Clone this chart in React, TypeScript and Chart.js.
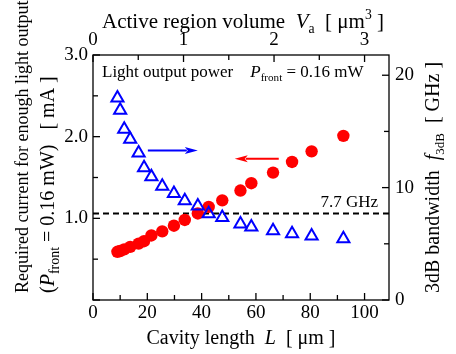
import React, { useEffect, useRef } from "react";
import { Chart, registerables } from "chart.js";

Chart.register(...registerables);

// ---- data ----
const cavityLength = [9, 10, 11.5, 13.7, 16.8, 18.8, 21.5, 25.5, 29.8, 33.8, 38.6, 42.6, 47.6, 54.3, 58.3, 66.3, 73.3, 80.5, 92.2];
const requiredCurrent = [0.59, 0.6, 0.62, 0.65, 0.69, 0.72, 0.79, 0.84, 0.91, 0.98, 1.06, 1.14, 1.22, 1.34, 1.43, 1.56, 1.69, 1.82, 2.01];
const bandwidth3dB = [17.98, 16.89, 15.2, 14.31, 13.09, 11.76, 10.96, 10.13, 9.48, 8.83, 8.36, 7.67, 7.33, 6.76, 6.49, 6.16, 5.89, 5.69, 5.45];
const thresholdGHz = 7.7;

const lengthMax = 109;
const volumePerLength = 0.03; // um^3 per um
const currentMax = 3;
const bandwidthMax = 21.8;

const lengthTicks = [0, 20, 40, 60, 80, 100];
const volumeTicks = [0, 1, 2, 3];
const currentTicks = [1, 2, 3];
const bandwidthTicks = [0, 10, 20];

const lengthMinorStep = 10;
const volumeMinorStep = 0.5;
const currentMinorStep = 0.5;
const bandwidthMinorStep = 5;

// annotation arrows in data units
const bandwidthArrow = { fromL: 20.2, toL: 38.6, atGHz: 13.3 };
const currentArrow = { fromL: 68.4, toL: 52.2, atmA: 1.73 };

const FONT = '"Liberation Serif", "Times New Roman", serif';

type Seg = { t: string; italic?: boolean; scale?: number; dy?: number };

function drawRich(ctx: CanvasRenderingContext2D, segs: Seg[], x: number, y: number, size: number, align: "left" | "center" | "right") {
  const fontOf = (s: Seg) => `${s.italic ? "italic " : ""}${(size * (s.scale ?? 1)).toFixed(1)}px ${FONT}`;
  let total = 0;
  const widths = segs.map((s) => {
    ctx.font = fontOf(s);
    const w = ctx.measureText(s.t).width;
    total += w;
    return w;
  });
  let cx = align === "left" ? x : align === "center" ? x - total / 2 : x - total;
  ctx.textAlign = "left";
  ctx.textBaseline = "alphabetic";
  segs.forEach((s, i) => {
    ctx.font = fontOf(s);
    ctx.fillText(s.t, cx, y + (s.dy ?? 0) * size);
    cx += widths[i];
  });
}

const SUB = { scale: 0.65, dy: 0.25 };
const SUP = { scale: 0.65, dy: -0.42 };

function drawArrow(ctx: CanvasRenderingContext2D, x1: number, y1: number, x2: number, y2: number, color: string) {
  const dir = Math.sign(x2 - x1);
  const headLen = 13;
  const headHalf = 3.5;
  ctx.save();
  ctx.strokeStyle = color;
  ctx.fillStyle = color;
  ctx.lineWidth = 2;
  ctx.beginPath();
  ctx.moveTo(x1, y1);
  ctx.lineTo(x2 - dir * (headLen - 2), y2);
  ctx.stroke();
  ctx.beginPath();
  ctx.moveTo(x2, y2);
  ctx.lineTo(x2 - dir * headLen, y2 - headHalf);
  ctx.lineTo(x2 - dir * (headLen - 3), y2);
  ctx.lineTo(x2 - dir * headLen, y2 + headHalf);
  ctx.closePath();
  ctx.fill();
  ctx.restore();
}

const decorPlugin = {
  id: "decor",
  afterDraw(chart: any) {
    const ctx: CanvasRenderingContext2D = chart.ctx;
    const { left, right, top, bottom } = chart.chartArea;
    const sx = chart.scales.x;
    const sx2 = chart.scales.x2;
    const sy = chart.scales.y;
    const sy2 = chart.scales.y2;
    ctx.save();
    ctx.strokeStyle = "#000";
    ctx.fillStyle = "#000";
    ctx.lineWidth = 1.3;
    ctx.strokeRect(left, top, right - left, bottom - top);

    const major = 7;
    const minor = 5;
    const line = (a: number, b: number, c: number, d: number) => {
      ctx.beginPath();
      ctx.moveTo(a, b);
      ctx.lineTo(c, d);
      ctx.stroke();
    };
    const near = (v: number, step: number) => Math.abs(v / step - Math.round(v / step)) < 1e-6;
    for (let i = 0; i * lengthMinorStep <= lengthMax + 1e-9; i++) {
      const v = i * lengthMinorStep;
      const p = sx.getPixelForValue(v);
      line(p, bottom, p, bottom - (near(v, 20) ? major : minor));
    }
    for (let i = 0; i * volumeMinorStep <= lengthMax * volumePerLength + 1e-9; i++) {
      const v = i * volumeMinorStep;
      const p = sx2.getPixelForValue(v);
      line(p, top, p, top + (near(v, 1) ? major : minor));
    }
    for (let i = 0; i * currentMinorStep <= currentMax + 1e-9; i++) {
      const v = i * currentMinorStep;
      const p = sy.getPixelForValue(v);
      line(left, p, left + (near(v, 1) ? major : minor), p);
    }
    for (let i = 0; i * bandwidthMinorStep <= bandwidthMax + 1e-9; i++) {
      const v = i * bandwidthMinorStep;
      const p = sy2.getPixelForValue(v);
      line(right, p, right - (near(v, 10) ? major : minor), p);
    }

    // arrows
    drawArrow(
      ctx,
      sx.getPixelForValue(bandwidthArrow.fromL),
      sy2.getPixelForValue(bandwidthArrow.atGHz),
      sx.getPixelForValue(bandwidthArrow.toL),
      sy2.getPixelForValue(bandwidthArrow.atGHz),
      "#0000ff"
    );
    drawArrow(
      ctx,
      sx.getPixelForValue(currentArrow.fromL),
      sy.getPixelForValue(currentArrow.atmA),
      sx.getPixelForValue(currentArrow.toL),
      sy.getPixelForValue(currentArrow.atmA),
      "#ff0000"
    );

    ctx.fillStyle = "#000";
    // in-plot texts
    drawRich(
      ctx,
      [{ t: "Light output power    " }, { t: "P", italic: true }, { t: "front", ...SUB }, { t: " = 0.16 mW" }],
      left + 9,
      top + 22,
      17,
      "left"
    );
    drawRich(ctx, [{ t: "7.7 GHz" }], right - 11, sy2.getPixelForValue(thresholdGHz) - 6, 17, "right");

    // axis titles
    const cxPlot = (left + right) / 2;
    drawRich(
      ctx,
      [{ t: "Active region volume  " }, { t: "V", italic: true }, { t: "a", ...SUB }, { t: "  [ \u03bcm" }, { t: "3", ...SUP }, { t: " ]" }],
      cxPlot + 2,
      28,
      21,
      "center"
    );
    drawRich(
      ctx,
      [{ t: "Cavity length  " }, { t: "L", italic: true }, { t: "  [ \u03bcm ]" }],
      cxPlot,
      344,
      20,
      "center"
    );

    // left title (two lines, rotated)
    ctx.save();
    ctx.translate(28, 293);
    ctx.rotate(-Math.PI / 2);
    drawRich(ctx, [{ t: "Required current for enough light output" }], 0, 0, 18, "left");
    ctx.restore();
    ctx.save();
    ctx.translate(54, 293);
    ctx.rotate(-Math.PI / 2);
    drawRich(
      ctx,
      [{ t: "(" }, { t: "P", italic: true }, { t: "front", scale: 0.7, dy: 0.25 }, { t: " = 0.16 mW)   [ mA ]" }],
      0,
      0,
      20,
      "left"
    );
    ctx.restore();

    // right title
    ctx.save();
    ctx.translate(439, (top + bottom) / 2);
    ctx.rotate(-Math.PI / 2);
    drawRich(
      ctx,
      [{ t: "3dB bandwidth  " }, { t: "f", italic: true }, { t: "3dB", ...SUB }, { t: "  [ GHz ]" }],
      0,
      0,
      20,
      "center"
    );
    ctx.restore();
    ctx.restore();
  },
};

export default function App() {
  const ref = useRef<HTMLCanvasElement | null>(null);
  useEffect(() => {
    if (!ref.current) return;
    const tickFont = { family: FONT, size: 19 };
    const setTicks = (arr: number[]) => (s: any) => {
      s.ticks = arr.map((v) => ({ value: v }));
    };
    const chart = new Chart(ref.current, {
      type: "scatter",
      data: {
        datasets: [
          {
            label: "bandwidth",
            data: cavityLength.map((L, i) => ({ x: L, y: bandwidth3dB[i] })),
            xAxisID: "x",
            yAxisID: "y2",
            pointStyle: "triangle",
            pointRadius: 7,
            pointBorderWidth: 2,
            borderColor: "#0000ff",
            backgroundColor: "rgba(255,255,255,0)",
            showLine: false,
          },
          {
            label: "current",
            data: cavityLength.map((L, i) => ({ x: L, y: requiredCurrent[i] })),
            xAxisID: "x",
            yAxisID: "y",
            pointStyle: "circle",
            pointRadius: 6.2,
            pointBorderWidth: 0,
            borderColor: "#ff0000",
            backgroundColor: "#ff0000",
            showLine: false,
          },
          {
            label: "threshold",
            data: [
              { x: 0, y: thresholdGHz },
              { x: lengthMax, y: thresholdGHz },
            ],
            xAxisID: "x",
            yAxisID: "y2",
            showLine: true,
            pointRadius: 0,
            borderColor: "#000",
            borderWidth: 2,
            borderDash: [6, 4],
          } as any,
        ],
      },
      options: {
        animation: false,
        responsive: false,
        devicePixelRatio: 1,
        layout: { padding: 0 },
        plugins: { legend: { display: false }, tooltip: { enabled: false } },
        scales: {
          x: {
            type: "linear",
            position: "bottom",
            min: 0,
            max: lengthMax,
            afterBuildTicks: setTicks(lengthTicks),
            ticks: { font: tickFont, color: "#000", padding: 2, maxRotation: 0, autoSkip: false, callback: (v: any) => String(v) },
            grid: { display: false, drawTicks: false },
            border: { display: false },
            afterFit: (s: any) => {
              s.height = 54;
            },
          },
          x2: {
            type: "linear",
            position: "top",
            min: 0,
            max: lengthMax * volumePerLength,
            afterBuildTicks: setTicks(volumeTicks),
            ticks: { font: tickFont, color: "#000", padding: 4, maxRotation: 0, autoSkip: false, callback: (v: any) => String(v) },
            grid: { display: false, drawTicks: false },
            border: { display: false },
            afterFit: (s: any) => {
              s.height = 55;
            },
          },
          y: {
            type: "linear",
            position: "left",
            min: 0,
            max: currentMax,
            afterBuildTicks: setTicks(currentTicks),
            ticks: { font: tickFont, color: "#000", padding: 5, autoSkip: false, callback: (v: any) => Number(v).toFixed(1) },
            grid: { display: false, drawTicks: false },
            border: { display: false },
            afterFit: (s: any) => {
              s.width = 93;
            },
          },
          y2: {
            type: "linear",
            position: "right",
            min: 0,
            max: bandwidthMax,
            afterBuildTicks: setTicks(bandwidthTicks),
            ticks: { font: tickFont, color: "#000", padding: 6, autoSkip: false, callback: (v: any) => String(v) },
            grid: { display: false, drawTicks: false },
            border: { display: false },
            afterFit: (s: any) => {
              s.width = 67;
            },
          },
        },
      } as any,
      plugins: [decorPlugin],
    });
    return () => chart.destroy();
  }, []);
  return (
    <div style={{ position: "fixed", left: 0, top: 0, width: 456, height: 354, background: "#fff" }}>
      <canvas ref={ref} width={456} height={354} style={{ display: "block" }} />
    </div>
  );
}
